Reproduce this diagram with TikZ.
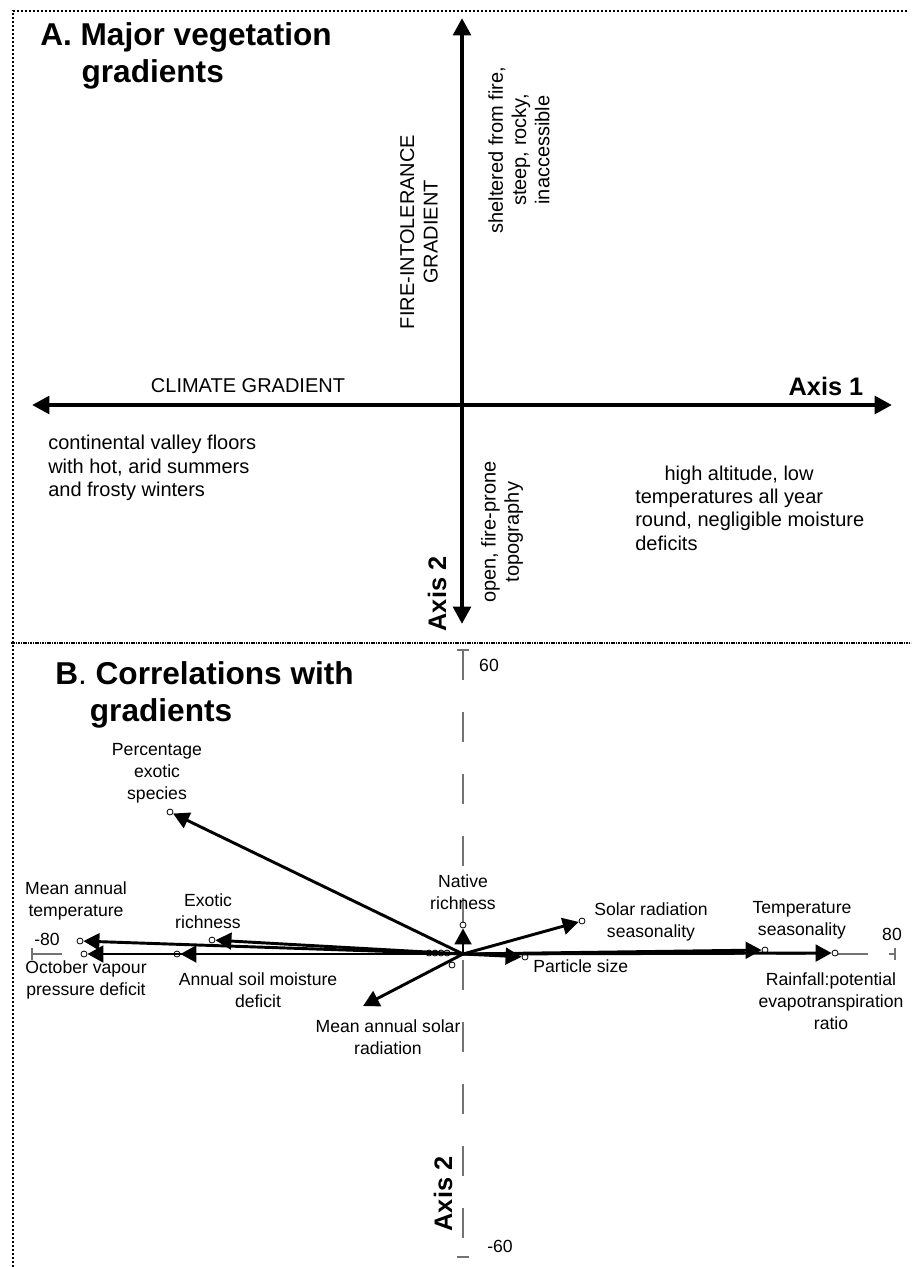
\documentclass[tikz,border=0pt]{standalone}
\usepackage{fontspec}
\setmainfont{Liberation Sans}
\usepackage{tikz}
\usetikzlibrary{arrows.meta,positioning,calc}

\begin{document}
\begin{tikzpicture}[
    x=0.75pt,y=-0.75pt,
    lbl/.style={font=\fontsize{13.2}{16.5}\selectfont, align=center, inner sep=0pt},
    biglbl/.style={font=\fontsize{15}{17.5}\selectfont, align=center, inner sep=0pt},
    paneltitle/.style={font=\bfseries\fontsize{23.7}{28}\selectfont, align=left, anchor=north west, inner sep=0pt},
    axislbl/.style={font=\bfseries\fontsize{19}{22}\selectfont, inner sep=0pt},
    gradarrow/.style={line width=3.5pt, {Triangle[length=13pt,width=13pt]}-{Triangle[length=13pt,width=13pt]}},
    vec/.style={line width=2.2pt, -{Triangle[length=12pt,width=12.5pt]}},
    endpt/.style={circle, draw, fill=white, line width=0.6pt, inner sep=0pt, minimum size=4.5pt},
    axisline/.style={draw=black!55, line width=0.8pt, dash pattern=on 22.5pt off 24pt},
    border/.style={line width=1.6pt, dash pattern=on 1.6pt off 1.4pt}
]
    \useasboundingbox (0,0) rectangle (911,1267);

    % Panel frames
    \draw[border] (13,1267) -- (13,11) -- (908,11);
    \draw[line width=2pt, dash pattern=on 1.2pt off 0.6pt] (11,643) -- (911,643);

    % Panel A
    \node[paneltitle] (titleA) at (40,22) {A. Major vegetation\\\hspace{31pt}gradients};
    \coordinate (AL) at (32,405);
    \coordinate (AR) at (892,405);
    \coordinate (AT) at (462,18);
    \coordinate (AB) at (462,624);
    \draw[gradarrow] (AL) -- (AR);
    \draw[gradarrow] (AT) -- (AB);

    \node[biglbl] (climate) at (248,386) {CLIMATE GRADIENT};
    \node[axislbl] (axisA1) at (826,386) {Axis 1};
    \node[biglbl, rotate=90] (fire) at (419,232) {FIRE-INTOLERANCE\\GRADIENT};
    \node[biglbl, rotate=90] (shelter) at (519,150) {sheltered from fire,\\steep, rocky,\\inaccessible};
    \node[biglbl, align=left, anchor=west] (valley) at (48,468) {continental valley floors\\with hot, arid summers\\and frosty winters};
    \node[biglbl, align=left, anchor=west] (alpine) at (635,508) {\hspace{22pt}high altitude, low\\temperatures all year\\round, negligible moisture\\deficits};
    \node[biglbl, rotate=90] (open) at (502,532) {open, fire-prone\\topography};
    \node[axislbl, rotate=90] (axisA2) at (437,594) {Axis 2};

    % Panel B
    \node[paneltitle] (titleB) at (55,661) {B{\mdseries.} Correlations with\\\hspace{26pt}gradients};

    % axes
    \draw[axisline] (463,650) -- (463,1240);
    \draw[axisline] (32,954) -- (895,954);
    \draw[draw=black!55, line width=0.8pt] (457,650) -- (469,650);
    \draw[draw=black!55, line width=0.8pt] (457,1257) -- (469,1257);
    \draw[draw=black!55, line width=0.8pt] (32,948) -- (32,960);
    \draw[draw=black!55, line width=0.8pt] (895,948) -- (895,960) (889,954) -- (895,954);
    \node[lbl] (top) at (489,665) {60};
    \node[lbl] (bot) at (500,1246) {-60};
    \node[lbl] (lft) at (47,939) {-80};
    \node[lbl] (rgt) at (892,934) {80};
    \node[axislbl, rotate=90] (axisB2) at (443,1194) {Axis 2};

    \coordinate (O) at (463,954);

    % vector end points
    \node[endpt] (pes) at (170,812) {};
    \node[endpt] (mat) at (80,941) {};
    \node[endpt] (ovp) at (84,954) {};
    \node[endpt] (exr) at (212,940) {};
    \node[endpt] (asm) at (177,954) {};
    \node[endpt] (nat) at (463,925) {};
    \node[endpt] (srs) at (582,921) {};
    \node[endpt] (pts) at (525,957) {};
    \node[endpt] (tms) at (765,950) {};
    \node[endpt] (rpe) at (835,953) {};
    \node[endpt] (msrpt) at (452,965) {};
    \coordinate (msr) at (363,1006);
    \foreach \x in {429,435,441,447}
        \node[endpt] at (\x,953) {};

    % vectors
    \draw[vec] (O) -- (pes);
    \draw[vec] (O) -- (mat);
    \draw[vec] (O) -- (ovp);
    \draw[vec] (O) -- (exr);
    \draw[vec] (O) -- (asm);
    \draw[vec] (O) -- (nat);
    \draw[vec] (O) -- (srs);
    \draw[vec] (O) -- (pts);
    \draw[vec] (O) -- (tms);
    \draw[vec] (O) -- (rpe);
    \draw[vec] (O) -- (msr);

    % labels
    \node[lbl] (pesl) at (157,773) {Percentage\\exotic\\species};
    \node[lbl] (matl) at (76,901) {Mean annual\\temperature};
    \node[lbl] (ovpl) at (86,980) {October vapour\\pressure deficit};
    \node[lbl] (exrl) at (208,911) {Exotic\\richness};
    \node[lbl] (asml) at (258,990) {Annual soil moisture\\deficit};
    \node[lbl] (msrl) at (388,1037) {Mean annual solar\\radiation};
    \node[lbl] (natl) at (463,892) {Native\\richness};
    \node[lbl] (srsl) at (651,922) {Solar radiation\\seasonality};
    \node[lbl, anchor=west] (ptsl) at (533,966) {Particle size};
    \node[lbl] (tmsl) at (802,920) {Temperature\\seasonality};
    \node[lbl] (rpel) at (831,1001) {Rainfall:potential\\evapotranspiration\\ratio};
\end{tikzpicture}
\end{document}
